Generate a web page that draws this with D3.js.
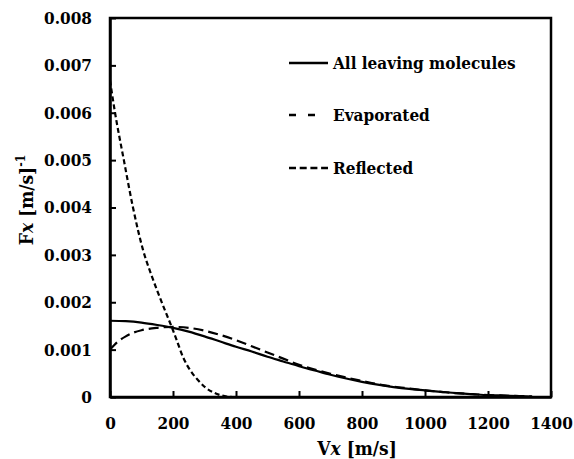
<!DOCTYPE html>
<html>
<head>
<meta charset="utf-8">
<script src="https://cdn.jsdelivr.net/npm/d3@7/dist/d3.min.js"></script>
<style>
  html, body { margin: 0; padding: 0; background: #fff; }
  svg { display: block; }
  svg text { font-family: 'DejaVu Serif Condensed', 'DejaVu Serif', serif; font-stretch: condensed; font-weight: bold; fill: #000; }
</style>
</head>
<body>
<svg id="chart" width="574" height="459"></svg>
<script>
// Velocity distribution of molecules leaving the surface
const seriesNames = ["All leaving molecules", "Evaporated", "Reflected"];

const allV = [0, 50, 100, 150, 200, 250, 300, 350, 400, 450, 500, 550, 600, 650, 700, 750, 800, 850, 900, 950, 1000, 1050, 1100, 1150, 1200, 1250, 1300, 1340];
const allF = [0.00161, 0.00160, 0.00157, 0.00152, 0.00146, 0.00138, 0.00128, 0.00117, 0.00106, 0.00096, 0.00085, 0.00075, 0.00065, 0.00056, 0.00047, 0.00039, 0.00032, 0.00026, 0.00021, 0.00017, 0.00014, 0.00011, 0.00008, 0.00006, 0.00004, 0.00003, 0.00002, 0.00001];

const evapV = [0, 25, 50, 75, 100, 150, 200, 250, 300, 350, 400, 450, 500, 550, 600, 650, 700, 750, 800, 850, 900, 950, 1000, 1050, 1100, 1150, 1200, 1250, 1300, 1340];
const evapF = [0.00100, 0.00117, 0.00128, 0.00136, 0.00141, 0.00146, 0.00148, 0.00146, 0.00140, 0.00131, 0.00120, 0.00107, 0.00094, 0.00081, 0.00068, 0.00058, 0.00049, 0.00041, 0.00034, 0.00027, 0.00022, 0.00018, 0.00014, 0.00011, 0.00008, 0.00006, 0.00004, 0.00003, 0.00002, 0.00001];

const reflV = [0, 16, 44, 73, 105, 130, 149, 175, 197, 215, 232, 255, 279, 303, 327, 350, 371, 400, 600, 800, 1000, 1200, 1340];
const reflF = [0.00668, 0.00600, 0.00500, 0.00400, 0.00310, 0.00260, 0.00226, 0.00182, 0.00146, 0.00114, 0.00084, 0.00056, 0.00036, 0.00020, 0.00010, 0.00004, 0.00001, 0, 0, 0, 0, 0, 0];

const xTicks = [0, 200, 400, 600, 800, 1000, 1200, 1400];
const yTicks = [0, 0.001, 0.002, 0.003, 0.004, 0.005, 0.006, 0.007, 0.008];

const svg = d3.select("#chart");
const plot = { left: 110, right: 551, top: 18, bottom: 397 };

const x = d3.scaleLinear().domain([0, 1400]).range([plot.left, plot.right]);
const y = d3.scaleLinear().domain([0, 0.008]).range([plot.bottom, plot.top]);

// frame
svg.append("rect")
  .attr("x", plot.left).attr("y", plot.top)
  .attr("width", plot.right - plot.left).attr("height", plot.bottom - plot.top)
  .attr("fill", "none").attr("stroke", "#000").attr("stroke-width", 2.5);

// axes with inward ticks
const xAxis = svg.append("g")
  .attr("transform", `translate(0,${plot.bottom})`)
  .call(d3.axisBottom(x).tickValues(xTicks).tickSizeInner(-6).tickSizeOuter(0).tickPadding(20).tickFormat(d3.format("d")));
const yAxis = svg.append("g")
  .attr("transform", `translate(${plot.left},0)`)
  .call(d3.axisLeft(y).tickValues(yTicks).tickSizeInner(-6).tickSizeOuter(0).tickPadding(18)
    .tickFormat(d => d === 0 ? "0" : d3.format(".3f")(d)));

[xAxis, yAxis].forEach(g => {
  g.attr("font-family", null).attr("font-size", 17);
  g.select(".domain").attr("stroke-width", 2.5);
  g.selectAll(".tick line").attr("stroke-width", 2);
});
xAxis.selectAll(".tick text").attr("dy", "0.71em");

// curves
const line = d3.line().x(d => x(d[0])).y(d => y(d[1])).curve(d3.curveMonotoneX);
const zip = (a, b) => a.map((v, i) => [v, b[i]]);

const series = [
  { name: seriesNames[0], data: zip(allV, allF), dash: null },
  { name: seriesNames[1], data: zip(evapV, evapF), dash: "10,5" },
  { name: seriesNames[2], data: zip(reflV, reflF), dash: "5,3" }
];

series.forEach(s => {
  svg.append("path")
    .datum(s.data)
    .attr("d", line)
    .attr("fill", "none")
    .attr("stroke", "#000")
    .attr("stroke-width", 2.2)
    .attr("stroke-dasharray", s.dash);
});

// legend
const legend = [
  { name: seriesNames[0], y: 63, dash: null, end: 328 },
  { name: seriesNames[1], y: 115, dash: "7,12", end: 321 },
  { name: seriesNames[2], y: 168, dash: "7,3.7", end: 328 }
];
legend.forEach(l => {
  svg.append("line")
    .attr("x1", 289).attr("x2", l.end)
    .attr("y1", l.y).attr("y2", l.y)
    .attr("stroke", "#000").attr("stroke-width", 2.5)
    .attr("stroke-dasharray", l.dash);
  svg.append("text")
    .attr("x", 333).attr("y", l.y + 6)
    .attr("font-size", 17)
    .text(l.name);
});

// axis titles
const xt = svg.append("text")
  .attr("x", 357).attr("y", 455)
  .attr("text-anchor", "middle")
  .attr("font-size", 19);
xt.append("tspan").text("V");
xt.append("tspan").attr("font-style", "italic").text("x");
xt.append("tspan").text(" [m/s]");

const yt = svg.append("text")
  .attr("transform", "translate(33,200) rotate(-90)")
  .attr("text-anchor", "middle")
  .attr("font-size", 19);
yt.append("tspan").text("F");
yt.append("tspan").attr("font-style", "italic").text("x");
yt.append("tspan").text(" [m/s]");
yt.append("tspan").attr("font-size", 12).attr("dy", -8).text("-1");
</script>
</body>
</html>
